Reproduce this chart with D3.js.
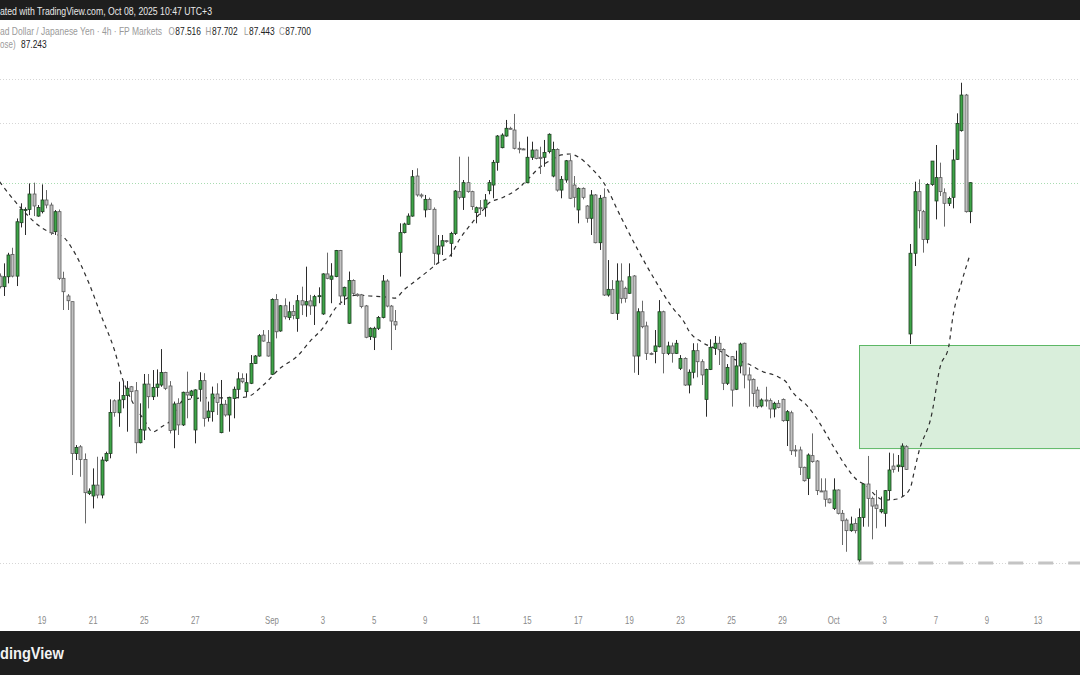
<!DOCTYPE html>
<html><head><meta charset="utf-8">
<script src="https://cdn.jsdelivr.net/npm/d3@7/dist/d3.min.js"></script>
<style>body{margin:0;background:#fff;}svg{display:block;font-family:"Liberation Sans",Arial,sans-serif;}</style>
</head><body>
<svg id="c" width="1080" height="675"></svg>
<script>
// ---- data (NZD/JPY 4h) ----
const firstIndex = 2; // candle index of first visible bar (Aug 15, 08:00)
const opens = [87.107,87.040,87.103,87.245,87.107,87.446,87.526,87.530,87.628,87.488,87.516,87.590,87.558,87.389,87.516,87.093,86.981,86.945,85.982,86.024,85.944,85.728,85.712,85.781,85.718,85.936,85.982,86.316,86.240,86.323,86.350,86.405,86.380,86.050,86.130,86.422,86.342,86.401,86.416,86.496,86.410,86.131,86.300,86.163,86.370,86.349,86.131,86.389,86.444,86.209,86.247,86.359,86.114,86.294,86.226,86.331,86.389,86.458,86.374,86.427,86.553,86.600,86.733,86.687,86.484,86.959,86.759,86.919,86.845,86.883,86.839,86.951,86.924,86.950,86.918,86.977,86.867,87.121,87.087,87.104,87.269,86.981,86.808,87.079,86.992,86.988,86.918,86.723,86.719,86.776,86.845,87.076,86.917,86.818,87.258,87.383,87.436,87.488,87.742,87.622,87.527,87.594,87.531,87.247,87.298,87.332,87.315,87.378,87.643,87.607,87.700,87.643,87.510,87.541,87.541,87.649,87.685,87.829,87.922,87.996,88.045,88.034,87.918,87.914,87.700,87.861,87.907,87.861,87.861,87.897,87.742,87.911,87.653,87.717,87.839,87.685,87.527,87.664,87.552,87.474,87.622,87.319,87.607,86.987,87.023,86.871,87.076,87.030,86.998,87.108,86.600,86.881,86.791,86.617,86.628,86.659,86.881,86.617,86.664,86.617,86.522,86.585,86.416,86.497,86.634,86.564,86.325,86.515,86.649,86.681,86.642,86.427,86.596,86.389,86.537,86.681,86.480,86.452,86.384,86.283,86.321,86.317,86.264,86.300,86.325,86.190,86.240,86.004,86.004,85.894,85.824,85.968,85.934,85.744,85.744,85.693,85.633,85.750,85.602,85.559,85.492,85.538,85.306,85.576,85.788,85.697,85.655,85.612,85.602,85.746,85.902,85.898,85.898,86.025,86.740,87.252,87.643,87.516,87.340,87.689,87.584,87.732,87.636,87.569,87.607,87.848,88.030,88.256,87.516];
const highs = [87.124,87.188,87.255,87.287,87.473,87.569,87.543,87.695,87.700,87.558,87.689,87.653,87.573,87.526,87.530,87.135,86.993,86.945,86.035,86.035,85.982,85.760,85.887,85.961,85.961,85.993,86.325,86.325,86.437,86.437,86.441,86.410,86.435,86.300,86.486,86.486,86.511,86.515,86.644,86.500,86.441,86.311,86.332,86.374,86.501,86.385,86.389,86.497,86.491,86.311,86.406,86.427,86.448,86.321,86.342,86.406,86.497,86.490,86.490,86.606,86.606,86.739,86.765,86.765,86.966,86.993,86.924,86.966,86.945,86.924,86.987,87.040,87.167,86.988,86.988,87.036,87.125,87.256,87.189,87.273,87.273,87.040,87.136,87.087,86.998,86.994,86.924,86.782,86.786,86.854,87.114,87.087,86.924,86.892,87.442,87.446,87.505,87.780,87.791,87.632,87.622,87.605,87.543,87.368,87.368,87.336,87.388,87.653,87.865,87.717,87.865,87.649,87.548,87.590,87.628,87.717,87.844,88.002,88.013,88.098,88.055,88.136,87.960,87.918,87.992,87.960,87.911,87.928,87.971,88.013,87.960,87.918,87.742,87.844,87.875,87.742,87.670,87.670,87.558,87.653,87.628,87.622,87.664,87.209,87.082,87.188,87.188,87.040,87.188,87.114,86.903,86.951,86.818,86.623,86.765,86.955,86.888,86.691,86.685,86.702,86.606,86.592,86.515,86.681,86.681,86.579,86.520,86.706,86.727,86.723,86.649,86.549,86.600,86.634,86.685,86.685,86.528,86.458,86.405,86.331,86.405,86.331,86.310,86.321,86.331,86.257,86.253,86.035,86.025,85.898,85.982,86.109,85.940,85.824,85.824,85.697,85.824,85.754,85.623,85.570,85.581,85.570,85.633,85.792,85.966,85.708,85.750,85.708,85.750,85.987,85.982,85.972,86.046,86.035,87.311,87.706,87.721,87.527,87.696,87.837,87.939,87.827,87.664,87.611,87.911,88.140,88.334,88.263,87.702];
const lows = [87.029,86.981,87.061,87.099,87.044,87.416,87.368,87.494,87.488,87.484,87.505,87.537,87.368,87.368,87.082,86.892,86.892,85.845,85.940,85.834,85.538,85.718,85.633,85.697,85.697,85.929,85.951,86.215,86.151,86.268,86.120,86.321,85.982,86.046,86.067,86.268,86.321,86.342,86.405,86.384,86.109,86.015,86.099,86.156,86.205,86.332,86.046,86.311,86.152,86.184,86.184,86.226,86.110,86.215,86.120,86.205,86.332,86.427,86.342,86.422,86.549,86.596,86.691,86.596,86.479,86.712,86.754,86.833,86.828,86.833,86.754,86.860,86.849,86.861,86.797,86.935,86.861,87.087,86.935,87.100,86.924,86.924,86.804,86.988,86.977,86.903,86.713,86.702,86.638,86.765,86.839,86.909,86.638,86.765,87.104,87.378,87.432,87.484,87.611,87.601,87.480,87.527,87.178,87.188,87.241,87.319,87.230,87.368,87.594,87.527,87.636,87.527,87.442,87.495,87.484,87.626,87.601,87.776,87.918,87.992,88.038,87.911,87.886,87.907,87.696,87.844,87.848,87.755,87.801,87.886,87.734,87.643,87.601,87.700,87.596,87.543,87.442,87.594,87.446,87.368,87.315,87.273,86.981,86.977,86.867,86.829,86.934,86.939,86.994,86.494,86.480,86.776,86.575,86.606,86.554,86.655,86.490,86.606,86.558,86.613,86.511,86.410,86.363,86.458,86.465,86.416,86.215,86.511,86.607,86.543,86.384,86.416,86.279,86.384,86.490,86.395,86.279,86.279,86.268,86.274,86.279,86.205,86.211,86.268,86.183,86.029,85.972,85.961,85.845,85.803,85.718,85.923,85.718,85.739,85.644,85.665,85.623,85.595,85.401,85.358,85.485,85.475,85.295,85.517,85.517,85.437,85.507,85.602,85.517,85.686,85.860,85.866,85.708,85.877,86.676,87.171,87.410,87.256,87.315,87.680,87.467,87.615,87.421,87.552,87.537,87.844,88.024,87.510,87.443];
const closes = [87.040,87.103,87.241,87.107,87.452,87.530,87.530,87.628,87.552,87.543,87.590,87.558,87.382,87.516,87.093,87.008,86.951,85.982,86.020,85.944,85.733,85.743,85.781,85.718,85.940,85.982,86.242,86.242,86.321,86.350,86.395,86.374,86.050,86.135,86.422,86.342,86.401,86.422,86.496,86.395,86.127,86.296,86.163,86.370,86.353,86.378,86.385,86.444,86.205,86.251,86.359,86.306,86.294,86.226,86.338,86.389,86.455,86.437,86.431,86.553,86.600,86.729,86.695,86.600,86.959,86.754,86.919,86.849,86.881,86.858,86.951,86.924,86.945,86.918,86.977,86.983,87.121,87.093,87.108,87.269,86.981,87.036,87.079,86.998,86.983,86.914,86.719,86.776,86.776,86.845,87.076,86.917,86.822,86.797,87.383,87.438,87.488,87.738,87.622,87.615,87.594,87.531,87.252,87.298,87.332,87.326,87.378,87.647,87.607,87.700,87.643,87.548,87.541,87.537,87.590,87.700,87.829,87.996,88.002,88.045,88.040,87.918,87.914,87.911,87.861,87.907,87.854,87.854,87.892,88.007,87.911,87.653,87.721,87.839,87.601,87.607,87.664,87.607,87.474,87.622,87.319,87.601,86.987,87.023,86.871,87.076,86.966,86.966,87.103,86.600,86.881,86.786,86.617,86.613,86.664,86.881,86.617,86.664,86.617,86.681,86.585,86.416,86.497,86.634,86.564,86.480,86.515,86.655,86.681,86.642,86.427,86.528,86.384,86.537,86.676,86.480,86.448,86.363,86.279,86.321,86.317,86.264,86.300,86.274,86.190,86.247,85.999,85.999,85.894,85.809,85.972,85.930,85.746,85.739,85.691,85.669,85.750,85.602,85.555,85.492,85.534,85.492,85.576,85.788,85.697,85.648,85.633,85.627,85.746,85.877,85.881,85.908,86.029,85.881,87.252,87.643,87.522,87.340,87.689,87.837,87.732,87.643,87.569,87.600,87.844,88.076,88.256,87.516,87.700];
// moving average (close) read at sampled bars
const maIndex = [2,7,12,15,17,19,23,26,29,31,33,36,38,40,43,45,50,55,60,64,68,72,75,78,81,83,86,89,93,95,97,100,103,105,108,110,113,116,117,120,124,126,129,132,134,136,138,141,144,148,152,156,160,163,164,167,171,174,178,181,185,187,188,192,195,198,201,203,206,208,210,213,214,216,217,218,221,223,225,226,228,230];
const maValues = [87.706,87.539,87.412,87.374,87.355,87.285,87.063,86.848,86.638,86.448,86.321,86.194,86.118,86.150,86.213,86.315,86.334,86.334,86.340,86.416,86.524,86.600,86.695,86.778,86.905,86.955,86.987,86.981,86.974,86.968,87.019,87.082,87.146,87.190,87.241,87.336,87.444,87.539,87.571,87.603,87.666,87.717,87.799,87.850,87.876,87.882,87.863,87.793,87.698,87.482,87.273,87.082,86.911,86.809,86.759,86.689,86.638,86.587,86.549,86.505,86.467,86.429,86.384,86.277,86.162,86.023,85.896,85.826,85.769,85.712,85.686,85.693,85.705,85.763,85.877,85.991,86.226,86.530,86.657,86.848,87.063,87.241];
// x axis ticks: bar index of first bar of each labelled day
const tickIndex = [12,24,36,48,66,78,90,102,114,126,138,150,162,174,186,198,210,222,234,246];
const tickLabels = ["19","21","25","27","Sep","3","5","9","11","15","17","19","23","25","29","Oct","3","7","9","13"];
// horizontal levels
const greyLevels = [88.356, 88.077];
const lastPrice = 87.700;
const lowLevel = 85.287;
const zoneTop = 86.670, zoneBottom = 86.016, zoneStartIndex = 204;
const headerSymbol = "ad Dollar / Japanese Yen · 4h · FP Markets";
const ohlcLabels = ["O","H","L","C"];
const ohlcValues = ["87.516","87.702","87.443","87.700"];
const maLabel = "ose)", maLast = "87.243";
const topNote = "ated with TradingView.com, Oct 08, 2025 10:47 UTC+3";
const brand = "dingView";

// ---- drawing ----
const W = 1080, H = 675;
const svg = d3.select("#c");
const x = d3.scaleLinear().domain([0, 230]).range([-9, -9 + 230 * 4.256]);
const y = d3.scaleLinear().domain([85.0, 88.859]).range([608.2, 0]);

const candles = opens.map((o, k) => ({i: firstIndex + k, o, h: highs[k], l: lows[k], c: closes[k]}));

const plot = svg.append("g");
const py = v => Math.round(y(v)) + 0.5;
plot.selectAll("line.lvl").data(greyLevels).join("line")
  .attr("x1", 0).attr("x2", W).attr("y1", py).attr("y2", py)
  .attr("stroke", "#d6d6d6").attr("stroke-width", 1).attr("stroke-dasharray", "1,2");
plot.append("line").attr("x1", 0).attr("x2", W).attr("y1", py(lastPrice)).attr("y2", py(lastPrice))
  .attr("stroke", "#a8dcb0").attr("stroke-width", 1).attr("stroke-dasharray", "1,2");
plot.append("line").attr("x1", 0).attr("x2", W).attr("y1", py(lowLevel)).attr("y2", py(lowLevel))
  .attr("stroke", "#d6d6d6").attr("stroke-width", 1).attr("stroke-dasharray", "1,2");
plot.append("line").attr("x1", x(zoneStartIndex) - 1).attr("x2", W)
  .attr("y1", y(lowLevel)).attr("y2", y(lowLevel))
  .attr("stroke", "#c4c4c4").attr("stroke-width", 3).attr("stroke-dasharray", "15,15");

// zone rectangle
plot.append("rect").attr("x", Math.round(x(zoneStartIndex)) + 0.5).attr("y", py(zoneTop))
  .attr("width", W - x(zoneStartIndex) + 2).attr("height", y(zoneBottom) - y(zoneTop))
  .attr("fill", "#d9eedb").attr("stroke", "#5cb765").attr("stroke-width", 1);

// moving average
const maPts = maIndex.map((d, k) => [d, maValues[k]]);
plot.append("path").datum(maPts)
  .attr("d", d3.line().x(d => x(d[0])).y(d => y(d[1])).curve(d3.curveMonotoneX))
  .attr("fill", "none").attr("stroke", "#2e2e2e").attr("stroke-width", 1.2).attr("stroke-dasharray", "4,4");

// candles
const up = d => d.c >= d.o;
const cg = plot.append("g");
cg.selectAll("line.w").data(candles).join("line")
  .attr("x1", d => Math.round(x(d.i)) + 0.5).attr("x2", d => Math.round(x(d.i)) + 0.5)
  .attr("y1", d => y(d.h)).attr("y2", d => y(d.l))
  .attr("stroke", d => up(d) ? "#2b2b2b" : "#6a6a6a").attr("stroke-width", 1);
cg.selectAll("rect.b").data(candles).join("rect")
  .attr("x", d => Math.round(x(d.i)) - 1)
  .attr("width", 3)
  .attr("y", d => y(Math.max(d.o, d.c)))
  .attr("height", d => Math.max(1, Math.abs(y(d.o) - y(d.c))))
  .attr("fill", d => up(d) ? "#3ea548" : "#c2c2c2")
  .attr("stroke", d => up(d) ? "#1f3d22" : "#5a5a5a").attr("stroke-width", 0.8);

// x axis
const axis = d3.axisBottom(x).tickValues(tickIndex).tickFormat((d, k) => tickLabels[k]).tickSize(0).tickPadding(0);
const ag = svg.append("g").attr("transform", "translate(0,617)").call(axis);
ag.select(".domain").remove();
ag.selectAll(".tick").each(function(d){
  const g = d3.select(this);
  g.attr("transform", `translate(${x(d)},0) scale(0.78,1)`);
  g.select("text").attr("fill", "#8a8a8a").attr("font-size", 10)
    .attr("font-family", "'Liberation Sans',Arial,sans-serif").attr("dy", "0.71em").attr("y", 0);
});

// text helpers: horizontally condensed text (scale sx), drawn at pixel x0
function ctext(str, x0, yb, size, fill, sx, weight) {
  return svg.append("text")
    .attr("transform", `translate(${x0},${yb}) scale(${sx},1)`)
    .attr("x", 0).attr("y", 0).text(str)
    .attr("font-size", size).attr("fill", fill).attr("font-weight", weight || "normal");
}

// top bar
svg.append("rect").attr("x", 0).attr("y", 0).attr("width", W).attr("height", 20).attr("fill", "#1e1e1e");
ctext(topNote, 0, 14.5, 11, "#e8e8e8", 0.79);

// header line (O/H/L/C) and MA line
ctext(headerSymbol, 0, 35, 10, "#9a9a9a", 0.85);
const oX = [168.5, 205.5, 244, 279], vX = [175.3, 212, 249, 285.3];
ohlcLabels.forEach((l, k) => {
  ctext(l, oX[k], 35, 10, "#9a9a9a", 0.8);
  ctext(ohlcValues[k], vX[k], 35, 10, "#222", 0.84);
});
ctext(maLabel, 0, 47.5, 10, "#9a9a9a", 0.8);
ctext(maLast, 21, 47.5, 10, "#222", 0.84);

// bottom bar
svg.append("rect").attr("x", 0).attr("y", 631).attr("width", W).attr("height", 44).attr("fill", "#1e1e1e");
ctext(brand, 0, 659, 17, "#f2f2f2", 0.86, "bold");
</script>
</body></html>
